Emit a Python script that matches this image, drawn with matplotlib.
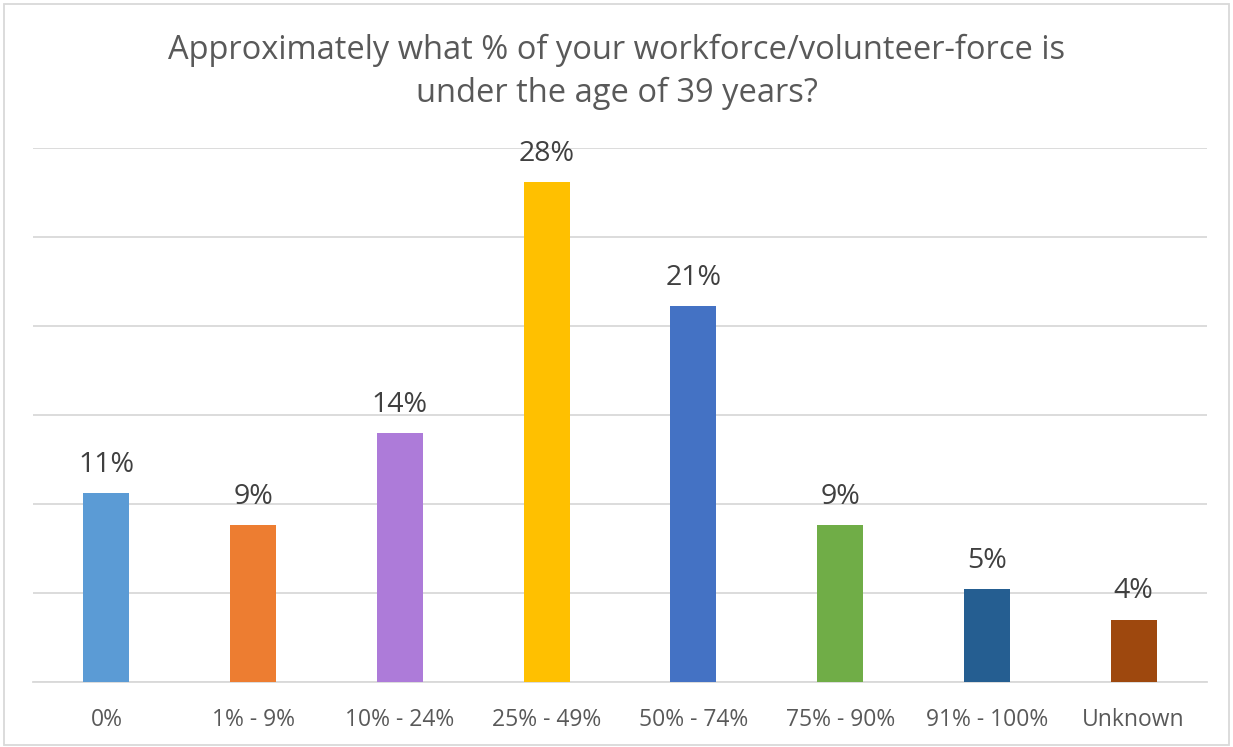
import matplotlib
matplotlib.use('Agg')
import matplotlib.pyplot as plt
from matplotlib.patches import Rectangle

categories = ['0%', '1% - 9%', '10% - 24%', '25% - 49%', '50% - 74%',
              '75% - 90%', '91% - 100%', 'Unknown']
shares = [10.6, 8.8, 14.0, 28.1, 21.1, 8.8, 5.2, 3.5]
colors = ['#5B9BD5', '#ED7D31', '#AD7BD9', '#FFC000', '#4472C4',
          '#70AD47', '#255E91', '#9E480E']
title = 'Approximately what % of your workforce/volunteer-force is\nunder the age of 39 years?'

plt.rcParams['font.family'] = ['Open Sans', 'DejaVu Sans']

fig = plt.figure(figsize=(12.33, 7.47), dpi=100)
ax = fig.add_axes([33 / 1233, 1 - 682 / 747, (1207 - 33) / 1233, (682 - 148) / 747])

x = range(len(categories))
ax.bar(x, shares, width=0.313, color=colors, zorder=3)
for xi, v in zip(x, shares):
    ax.text(xi, v + 0.8, f'{v:.0f}%', ha='center', va='bottom',
            fontsize=20.5, color='#404040', zorder=4)

ax.set_xlim(-0.5, len(categories) - 0.5)
ax.set_ylim(0, 30)
ax.set_yticks(range(0, 31, 5))
ax.set_yticklabels([])
ax.tick_params(axis='y', length=0)
ax.grid(axis='y', color='#d9d9d9', linewidth=1.3, zorder=0)
ax.set_xticks(list(x))
ax.set_xticklabels(categories, fontsize=16.5, color='#595959')
ax.tick_params(axis='x', length=0, pad=19)
for side in ['top', 'right', 'left']:
    ax.spines[side].set_visible(False)
ax.spines['bottom'].set_color('#d9d9d9')
ax.spines['bottom'].set_linewidth(1.3)

fig.text(0.5, 1 - 72 / 747, title, ha='center', va='center',
         fontsize=23.5, color='#595959', linespacing=1.4)

fig.patches.append(Rectangle((4 / 1233, 2 / 747), 1 - 8 / 1233, 1 - 6 / 747,
                             transform=fig.transFigure, fill=False,
                             edgecolor='#d9d9d9', linewidth=1.3))

fig.savefig('out.png', dpi=100)
